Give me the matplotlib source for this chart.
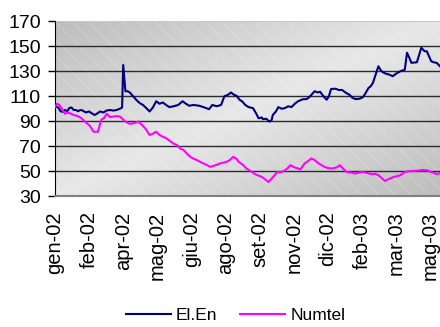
import matplotlib
matplotlib.use("Agg")
import matplotlib.pyplot as plt
import numpy as np
from matplotlib.patches import Rectangle


# trading-day index (31 days between labels) and closing index values
ELEN_DAYS = [0, 3, 5, 7, 9, 11, 13, 15, 17, 19, 21, 23, 25, 28, 31, 34, 36, 38, 41, 44,
             47, 50, 53, 56, 59, 61, 62, 63, 64, 66, 68, 71, 74, 77, 80, 83, 86, 89, 92, 95,
             98, 101, 104, 108, 112, 116, 119, 122, 126, 131, 136, 140, 143, 147, 151, 154, 157, 160, 163, 165,
             168, 170, 173, 176, 180, 183, 185, 188, 189, 192, 195, 197, 198, 201, 203, 206, 209, 212, 215, 218,
             221, 225, 229, 232, 236, 239, 241, 244, 247, 249, 251, 255, 258, 261, 264, 268, 270, 273, 277, 280,
             282, 285, 287, 289, 291, 294, 296, 298, 301, 304, 307, 310, 314, 318, 320, 322, 324, 327, 329, 331,
             333, 336, 338, 340, 342, 345, 347, 350]
ELEN_VALUES = [102, 101, 98, 97.5, 99, 98, 100.5, 101, 99, 99, 98, 99, 98.6, 97, 97.8, 96, 95, 96, 97.8, 97,
               98.6, 99, 98.5, 99, 100, 101, 135, 125, 114, 114, 113, 110, 107, 104.5, 103, 100.5, 97.8, 101, 106, 104,
               105, 103, 101.3, 102, 103, 106, 104, 102.4, 103, 102.4, 101, 99.6, 103, 102, 103, 110, 111, 113, 111, 110.4,
               107, 106, 103, 101.3, 100.5, 96, 92.4, 93, 91.6, 92, 89.7, 91, 95, 98, 101.3, 100, 100.5, 102, 101.3, 104,
               106, 107.5, 107.8, 110, 114, 113, 113.6, 110, 107.2, 110, 115.8, 116, 115, 115, 113, 111, 109, 107.7, 108, 109.3,
               112, 116.6, 118, 120.6, 126, 134, 131, 129.2, 128, 127.3, 126, 128, 130, 131.3, 144.8, 141, 136.7, 137, 137.2, 143,
               148.8, 146, 146, 142, 138, 137, 136.7, 134]

NUMTEL_DAYS = [0, 2, 4, 7, 9, 12, 17, 21, 24, 27, 29, 32, 35, 39, 42, 45, 47, 50, 55, 59,
               64, 68, 72, 76, 79, 82, 86, 89, 92, 95, 98, 101, 104, 108, 111, 114, 117, 120, 123, 126,
               129, 132, 135, 138, 141, 145, 150, 154, 158, 162, 165, 167, 171, 174, 178, 182, 185, 188, 191, 194,
               197, 202, 205, 208, 211, 214, 218, 221, 223, 227, 230, 233, 236, 239, 242, 245, 248, 252, 256, 259,
               262, 265, 269, 273, 277, 280, 284, 288, 291, 294, 297, 300, 304, 308, 311, 314, 318, 322, 326, 330,
               335, 339, 342, 345, 347, 350]
NUMTEL_VALUES = [101.3, 104, 103, 99, 96, 97, 95, 94, 92.4, 90, 88.4, 86, 81.6, 81.6, 91, 93, 96, 93.3, 94, 93.8,
                 89.7, 87.9, 88.5, 89.7, 87, 84.4, 79, 80, 81.6, 79, 77.6, 76.5, 74.5, 72, 71, 68, 66.9, 64, 61.5, 60,
                 58.9, 57.5, 56.2, 55, 53.5, 54.5, 56.2, 57, 58.3, 61.5, 60, 57.5, 55, 52.2, 50, 47.6, 46.5, 45.4, 43.5, 41.4,
                 44, 49.4, 49, 50.2, 52, 54.8, 53, 52.2, 51.4, 56.2, 58, 60.2, 59, 56.7, 55, 53.5, 52.5, 52.2, 53, 54.8,
                 52, 49.4, 49, 48.1, 49, 49.4, 48.5, 47.6, 48, 46.8, 44.5, 42.2, 44, 45.4, 46, 46.8, 49.4, 50, 50.2, 50.5,
                 51, 50.5, 49.4, 48.5, 47.6, 48.5]

TICK_DAYS = [0, 31, 62, 93, 124, 155, 186, 217, 248, 279, 310, 341]
TICK_LABELS = ["gen-02", "feb-02", "apr-02", "mag-02", "giu-02", "ago-02",
               "set-02", "nov-02", "dic-02", "feb-03", "mar-03", "mag-03"]


def draw_background(ax):
    # excel style diagonal gradient, dark corners top-left / bottom-right
    u = np.linspace(0, 1, 200)
    v = np.linspace(0, 1, 150)
    uu, vv = np.meshgrid(u, v)
    d = np.abs(uu + vv - 1)
    shade = 0.91 - 0.17 * d
    img = np.dstack([shade, shade, shade])
    ax.imshow(img, extent=[0, 1, 0, 1], transform=ax.transAxes,
              aspect="auto", origin="upper", zorder=0)
    ax.add_patch(Rectangle((0, 0), 1, 1, transform=ax.transAxes, fill=False,
                           hatch="\\\\", edgecolor=(1, 1, 1, 0.25), linewidth=0, zorder=0.5))


def main():
    plt.rcParams["font.family"] = ["Liberation Sans", "DejaVu Sans"]
    plt.rcParams["hatch.linewidth"] = 0.6

    fig = plt.figure(figsize=(4.4, 3.27), dpi=100)
    ax = fig.add_axes([0.125, 0.4, 0.875, 0.535])

    draw_background(ax)

    for y in [50, 70, 90, 110, 130, 150]:
        ax.axhline(y, color="#2a2a2a", linewidth=1.0, zorder=1)
    ax.axhline(170, color="#c8c8c8", linewidth=1.5, zorder=1)

    ax.plot(ELEN_DAYS, ELEN_VALUES, color="#000080", linewidth=1.5, label="El.En", zorder=3)
    ax.plot(NUMTEL_DAYS, NUMTEL_VALUES, color="#FF00FF", linewidth=1.5, label="Numtel", zorder=3)

    ax.set_xlim(0, 350)
    ax.set_ylim(30, 170)
    ax.set_yticks(range(30, 171, 20))
    ax.set_xticks(TICK_DAYS)
    ax.set_xticklabels(TICK_LABELS, rotation=90, fontsize=14.5)

    ax.tick_params(axis="y", labelsize=14, length=5, width=1, direction="out", pad=5)
    ax.tick_params(axis="x", length=0, pad=11)

    for side in ["top", "right"]:
        ax.spines[side].set_visible(False)
    ax.spines["left"].set_color("black")
    ax.spines["bottom"].set_color("#808080")
    ax.spines["bottom"].set_linewidth(1.5)

    fig.legend(loc="center", bbox_to_anchor=(0.535, 0.035), ncol=2, frameon=False,
               fontsize=12.5, handlelength=2.6, handletextpad=0.3, columnspacing=1.3)

    fig.savefig("out.png", dpi=100)
    plt.close(fig)


if __name__ == "__main__":
    main()
